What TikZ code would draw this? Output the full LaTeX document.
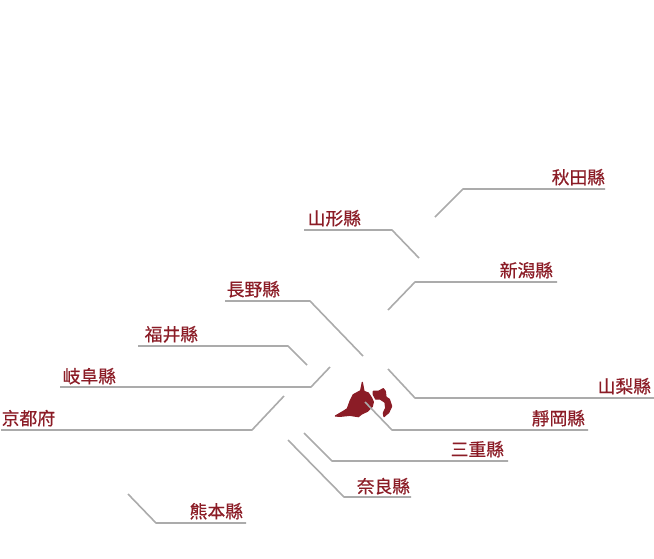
\documentclass[tikz,border=0pt]{standalone}
\usepackage{fontspec}
\newfontfamily\cjk[FakeBold=0.5]{Noto Sans CJK TC}
\usetikzlibrary{positioning}
\definecolor{prefred}{HTML}{8B1C26}
\definecolor{leadgray}{HTML}{ABABAB}
\tikzset{
	pref/.style={font=\cjk\fontsize{17.8}{18}\selectfont, text=prefred, inner sep=0pt, anchor=base west},
	leader/.style={draw=leadgray, line width=1.6pt, line join=round},
	region/.style={fill=prefred, draw=prefred, line width=1.2pt, line join=round}
}

\begin{document}
\begin{tikzpicture}[x=1pt,y=-1pt]
	\useasboundingbox (0,0) rectangle (654,558);
	% region
	\begin{scope}[shift={(330,378)},x=0.3333pt,y=-0.3333pt]
		\path[region] (16,114) -- (40,100) -- (52,92) -- (60,70) -- (70,50) -- (92,38) -- (97,13) -- (102,40) -- (115,45) -- (125,60) -- (130,72) -- (127,85) -- (112,100) -- (95,108) -- (85,116) -- (60,112) -- (30,115) -- cycle;
		\path[region] (130,40) -- (145,40) -- (160,32) -- (166,40) -- (168,57) -- (178,64) -- (185,85) -- (176,104) -- (165,113) -- (162,116) -- (160,105) -- (167,90) -- (165,73) -- (150,63) -- (137,63) -- (130,50) -- cycle;
	\end{scope}
	% leaders
	\coordinate (akita-a) at (435,217);
	\coordinate (akita-b) at (463,189);
	\coordinate (akita-c) at (605,189);
	\coordinate (yamagata-a) at (419,258);
	\coordinate (yamagata-b) at (392,230);
	\coordinate (yamagata-c) at (304,230);
	\coordinate (niigata-a) at (388,310);
	\coordinate (niigata-b) at (415,282);
	\coordinate (niigata-c) at (557,282);
	\coordinate (nagano-a) at (363,356);
	\coordinate (nagano-b) at (310,301);
	\coordinate (nagano-c) at (225,301);
	\coordinate (fukui-a) at (307,365);
	\coordinate (fukui-b) at (288,346);
	\coordinate (fukui-c) at (138,346);
	\coordinate (gifu-a) at (330,367);
	\coordinate (gifu-b) at (311,387);
	\coordinate (gifu-c) at (60,387);
	\coordinate (kyoto-a) at (284,396);
	\coordinate (kyoto-b) at (252,430);
	\coordinate (kyoto-c) at (1,430);
	\coordinate (yamanashi-a) at (388,369);
	\coordinate (yamanashi-b) at (415,398);
	\coordinate (yamanashi-c) at (654,398);
	\coordinate (shizuoka-a) at (365,402);
	\coordinate (shizuoka-b) at (392,430);
	\coordinate (shizuoka-c) at (588,430);
	\coordinate (mie-a) at (304,433);
	\coordinate (mie-b) at (332,461);
	\coordinate (mie-c) at (508,461);
	\coordinate (nara-a) at (288,440);
	\coordinate (nara-b) at (344,497);
	\coordinate (nara-c) at (411,497);
	\coordinate (kumamoto-a) at (128,494);
	\coordinate (kumamoto-b) at (156,523);
	\coordinate (kumamoto-c) at (246,523);
	\foreach \p in {akita,yamagata,niigata,nagano,fukui,gifu,kyoto,yamanashi,shizuoka,mie,nara,kumamoto}
		\draw[leader] (\p-a) -- (\p-b) -- (\p-c);
	% labels
	\node[pref] (akita) at (551.5,184) {秋田縣};
	\node[pref] (yamagata) at (307.5,225) {山形縣};
	\node[pref] (niigata) at (499.5,277) {新潟縣};
	\node[pref] (nagano) at (226.5,296) {長野縣};
	\node[pref] (fukui) at (144.5,341) {福井縣};
	\node[pref] (gifu) at (62.5,383) {岐阜縣};
	\node[pref] (kyoto) at (1.5,425) {京都府};
	\node[pref] (yamanashi) at (597.5,393) {山梨縣};
	\node[pref] (shizuoka) at (531.5,425) {靜岡縣};
	\node[pref] (mie) at (450.5,456) {三重縣};
	\node[pref] (nara) at (356.5,493) {奈良縣};
	\node[pref] (kumamoto) at (189.5,518) {熊本縣};
\end{tikzpicture}
\end{document}
